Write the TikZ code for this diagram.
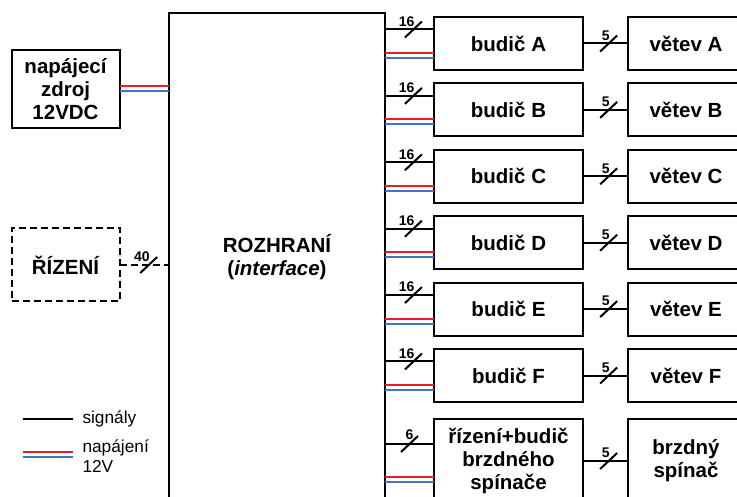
\documentclass[tikz,border=0pt]{standalone}
\usepackage{fontspec}
\setmainfont{Liberation Sans}
\usetikzlibrary{positioning, calc}
\definecolor{pwrred}{RGB}{237,28,36}
\definecolor{pwrblue}{RGB}{68,114,196}

\begin{document}
\begin{tikzpicture}[
    x=1pt, y=-1pt,
    node distance=13.4pt and 45pt,
    every node/.style={align=center, outer sep=0pt},
    box/.style={rectangle, draw, line width=2pt, inner sep=2pt, font=\fontsize{20.5}{23}\selectfont\bfseries},
    ctrl/.style={dash pattern=on 7pt off 4pt},
    source/.style={box, minimum width=108pt, minimum height=78pt},
    control/.style={box, ctrl, minimum width=108pt, minimum height=73pt},
    hub/.style={box, minimum width=216pt, minimum height=488pt},
    driver/.style={box, minimum width=149pt, minimum height=53pt},
    branch/.style={box, minimum width=116pt, minimum height=53pt},
    sig/.style={draw, line width=2pt},
    pwrplus/.style={draw=pwrred, line width=2pt},
    pwrminus/.style={draw=pwrblue, line width=2pt},
    buslabel/.style={font=\fontsize{14}{14}\selectfont\bfseries, inner sep=0pt, anchor=south east},
    legend/.style={font=\fontsize{17.3}{20}\selectfont, inner sep=0pt, anchor=west, align=left}
]
\useasboundingbox (0,0) rectangle (737,497);

% Interface
\node[hub, anchor=north west] (hub) at (169,13) {ROZHRANÍ\\(\textit{interface})};

% Supply and control
\node[source] (source) at (65.5,89) {napájecí\\zdroj\\12VDC};
\node[control] (control) at (65.5,265) {ŘÍZENÍ};

% Drivers
\node[driver] (drvA) at (508.5,43.5) {budič A};
\node[driver, below=of drvA] (drvB) {budič B};
\node[driver, below=of drvB] (drvC) {budič C};
\node[driver, below=of drvC] (drvD) {budič D};
\node[driver, below=of drvD] (drvE) {budič E};
\node[driver, below=of drvE] (drvF) {budič F};
\node[driver, minimum height=84pt, below=17pt of drvF] (drvBr) {řízení+budič\\brzdného\\spínače};

% Branches
\node[branch, right=of drvA] (brA) {větev A};
\node[branch, right=of drvB] (brB) {větev B};
\node[branch, right=of drvC] (brC) {větev C};
\node[branch, right=of drvD] (brD) {větev D};
\node[branch, right=of drvE] (brE) {větev E};
\node[branch, right=of drvF] (brF) {větev F};
\node[branch, minimum height=84pt, right=of drvBr] (brBr) {brzdný\\spínač};

% Supply and control connections
\coordinate (zr) at ($(source.east)+(0,-2.5)$);
\coordinate (zb) at ($(source.east)+(0,2.5)$);
\draw[pwrplus] (zr) -- (zr -| hub.west);
\draw[pwrminus] (zb) -- (zb -| hub.west);
\draw[sig, ctrl] (control) -- coordinate[pos=.59] (mc) (control -| hub.west);
\draw[sig] ([shift={(-8.5,8)}]mc) -- ([shift={(8.5,-8)}]mc);
\node[buslabel] at ([shift={(1,-3)}]mc) {40};

% Driver rows
\foreach \r/\n in {A/16,B/16,C/16,D/16,E/16,F/16} {
  \coordinate (s\r) at ($(drv\r.west)+(0,-14)$);
  \coordinate (r\r) at ($(drv\r.west)+(0,9.5)$);
  \coordinate (b\r) at ($(drv\r.west)+(0,14.5)$);
  \draw[sig] (hub.east |- s\r) -- coordinate[pos=.58] (m\r) (s\r);
  \draw[sig] ([shift={(-8.5,8)}]m\r) -- ([shift={(8.5,-8)}]m\r);
  \node[buslabel] at ([shift={(1,-3)}]m\r) {\n};
  \draw[pwrplus] (hub.east |- r\r) -- (r\r);
  \draw[pwrminus] (hub.east |- b\r) -- (b\r);
  \draw[sig] (drv\r) -- coordinate[pos=.57] (n\r) (br\r);
  \draw[sig] ([shift={(-8.5,8)}]n\r) -- ([shift={(8.5,-8)}]n\r);
  \node[buslabel] at ([shift={(1,-3)}]n\r) {5};
}

% Brake row
\coordinate (sBr) at ($(drvBr.west)+(0,-17)$);
\coordinate (rBr) at ($(drvBr.west)+(0,16)$);
\coordinate (bBr) at ($(drvBr.west)+(0,20.5)$);
\draw[sig] (hub.east |- sBr) -- coordinate[pos=.5] (mBr) (sBr);
\draw[sig] ([shift={(-8.5,8)}]mBr) -- ([shift={(8.5,-8)}]mBr);
\node[buslabel] at ([shift={(4,-4)}]mBr) {6};
\draw[pwrplus] (hub.east |- rBr) -- (rBr);
\draw[pwrminus] (hub.east |- bBr) -- (bBr);
\draw[sig] (drvBr) -- coordinate[pos=.57] (nBr) (brBr);
\draw[sig] ([shift={(-8.5,8)}]nBr) -- ([shift={(8.5,-8)}]nBr);
\node[buslabel] at ([shift={(1,-3)}]nBr) {5};

% Legend
\coordinate (lsig) at (23,419);
\coordinate (lred) at (23,452);
\coordinate (lblue) at (23,457);
\draw[sig] (lsig) -- ++(50,0);
\draw[pwrplus] (lred) -- ++(50,0);
\draw[pwrminus] (lblue) -- ++(50,0);
\node[legend] (lgsig) at (82.5,419) {signály};
\node[legend] (lgpwr) at (82.5,456) {napájení\\12V};

\end{tikzpicture}
\end{document}
